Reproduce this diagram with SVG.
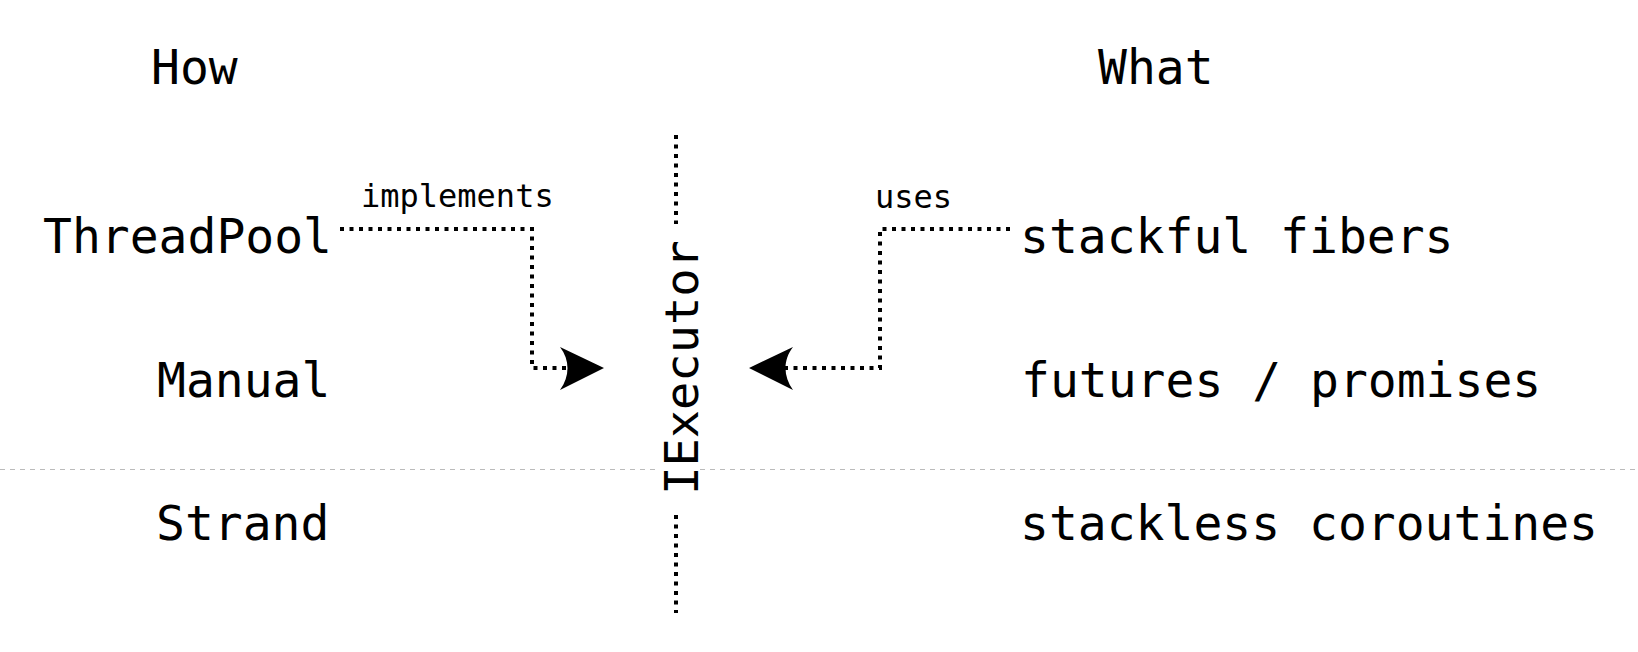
<svg xmlns="http://www.w3.org/2000/svg" width="1638" height="652" viewBox="0 0 1638 652">
  <style>
    .t { font-family: "DejaVu Sans Mono", "Liberation Mono", monospace; fill: #000; }
    .big { font-size: 48px; }
    .lbl { font-size: 32px; }
    .dot { fill: none; stroke: #000; stroke-width: 4; stroke-dasharray: 4 5.5; }
    .sep { fill: none; stroke: #bbbbbb; stroke-width: 1; stroke-dasharray: 5 5; }
    .head { fill: #000; stroke: none; }
  </style>
  <rect width="1638" height="652" fill="#fff"/>

  <line class="sep" x1="0" y1="469.5" x2="1638" y2="469.5"/>

  <g id="headers">
    <text class="t big" x="151" y="84">How</text>
    <text class="t big" x="1098" y="84">What</text>
  </g>

  <g id="executor-axis">
    <line class="dot" x1="676" y1="135" x2="676" y2="613"/>
  </g>

  <g id="node-iexecutor">
    <rect x="658" y="224" width="41" height="288" fill="#fff"/>
    <text class="t" font-size="47" text-anchor="middle" transform="translate(698,367.5) rotate(-90)">IExecutor</text>
  </g>

  <g id="node-threadpool"><text class="t big" x="43" y="253">ThreadPool</text></g>
  <g id="node-manual"><text class="t big" x="157" y="397">Manual</text></g>
  <g id="node-strand"><text class="t big" x="156" y="540">Strand</text></g>

  <g id="node-stackful"><text class="t big" x="1020" y="253">stackful fibers</text></g>
  <g id="node-futures"><text class="t big" x="1021" y="397">futures / promises</text></g>
  <g id="node-stackless"><text class="t big" x="1020" y="540">stackless coroutines</text></g>

  <g id="connectors">
    <path class="dot" d="M340,229 H532 V368 H566"/>
    <path class="head" d="M604,368 L560,347 C570,360 570,376 560,390 Z"/>
    <text class="t lbl" x="361" y="207">implements</text>

    <path class="dot" d="M1010,229 H880 V368 H784"/>
    <path class="head" d="M749,368 L793,347 C783,360 783,376 793,390 Z"/>
    <text class="t lbl" x="875" y="208">uses</text>
  </g>
</svg>
